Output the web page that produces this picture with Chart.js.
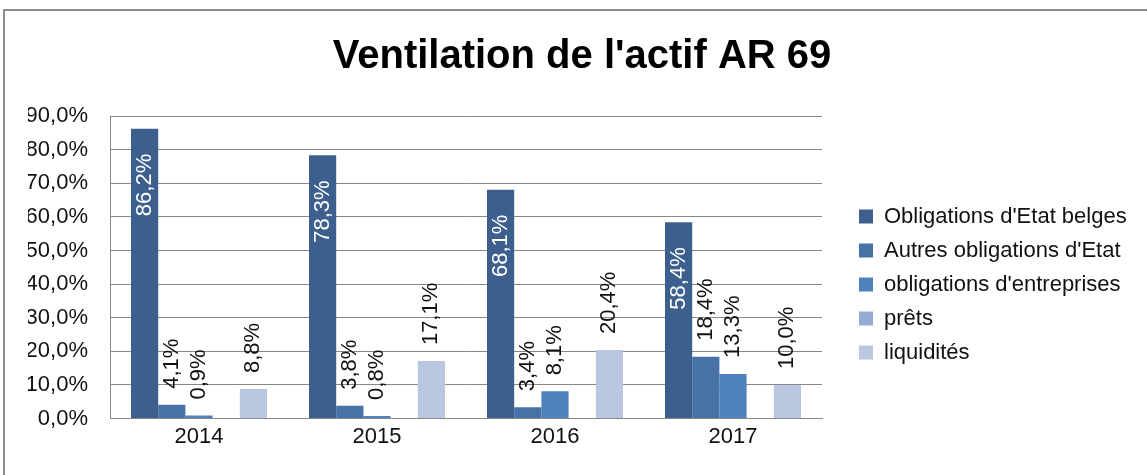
<!DOCTYPE html>
<html lang="fr">
<head>
<meta charset="utf-8">
<title>Ventilation de l'actif AR 69</title>
<script src="https://cdn.jsdelivr.net/npm/chart.js@4.4.1/dist/chart.umd.min.js"></script>
<style>
  html, body { margin: 0; padding: 0; background: #fff; overflow: hidden; }
  #frame { position: absolute; left: 3px; top: 9px; width: 1170px; height: 490px; border: 2px solid #8c8c8c; }
  #chartWrap { position: absolute; left: 0; top: 0; width: 1147px; height: 475px; }
</style>
</head>
<body>
<div id="frame"></div>
<div id="chartWrap"><canvas id="chartActif" width="1147" height="475"></canvas></div>
<script>
// Data (percent of assets)
const YEARS = ['2014', '2015', '2016', '2017'];
const SERIES_NAMES = ["Obligations d'Etat belges", "Autres obligations d'Etat", "obligations d'entreprises", 'prêts', 'liquidités'];
const OBLIG_BELGES = [86.2, 78.3, 68.1, 58.4];
const AUTRES_OBLIG = [4.1, 3.8, 3.4, 18.4];
const OBLIG_ENTREPRISES = [0.9, 0.8, 8.1, 13.3];
const PRETS = [null, null, null, null];        // no bars drawn
const LIQUIDITES = [8.8, 17.1, 20.4, 10.0];
const SERIES_COLORS = ['#3C5F8E', '#4672A8', '#4F81BD', '#95ACD2', '#B9C7E0'];

// Layout
const FONT = '"Liberation Sans", Arial, sans-serif';
const Y_AXIS_WIDTH = 82;
const LEGEND_AREA_WIDTH = 314;   // block reserved right of the plot
const LEGEND_INSET = 25;         // extra shift of legend items to the right
const LEGEND_DROP = 57;          // legend sits lower than centred

/** 86.2 -> "86,2%" */
const pct = v => Number(v).toFixed(1).replace('.', ',') + '%';

/** Fixed-width legend block, items nudged right/down */
const legendBlock = {
  id: 'legendBlock',
  beforeInit(chart) {
    const legend = chart.legend;
    if (!legend) return;
    const fit = legend.fit;
    legend.fit = function () {
      fit.call(this);
      this.width = LEGEND_AREA_WIDTH;
    };
  },
  afterLayout(chart) {
    const legend = chart.legend;
    if (!legend) return;
    legend.left += LEGEND_INSET;
    legend.top += LEGEND_DROP;
    legend.bottom += LEGEND_DROP;
  }
};

/** Rotated value labels: inside top for first series, above bar for the rest */
const barLabels = {
  id: 'barLabels',
  afterDatasetsDraw(chart) {
    const ctx = chart.ctx;
    ctx.save();
    ctx.font = '22px ' + FONT;
    ctx.textBaseline = 'middle';
    chart.data.datasets.forEach((ds, i) => {
      const meta = chart.getDatasetMeta(i);
      if (meta.hidden) return;
      meta.data.forEach((bar, j) => {
        const v = ds.data[j];
        if (v == null) return;
        const inside = i === 0;
        ctx.save();
        ctx.translate(bar.x, inside ? bar.y + 25 : bar.y - 16);
        ctx.rotate(-Math.PI / 2);
        ctx.textAlign = inside ? 'right' : 'left';
        ctx.fillStyle = inside ? '#ffffff' : '#111111';
        ctx.fillText(pct(v), 0, 0);
        ctx.restore();
      });
    });
    ctx.restore();
  }
};

const seriesValues = [OBLIG_BELGES, AUTRES_OBLIG, OBLIG_ENTREPRISES, PRETS, LIQUIDITES];

new Chart(document.getElementById('chartActif'), {
  type: 'bar',
  data: {
    labels: YEARS,
    datasets: SERIES_NAMES.map((name, i) => ({
      label: name,
      data: seriesValues[i],
      backgroundColor: SERIES_COLORS[i],
      borderWidth: 0
    }))
  },
  options: {
    responsive: false,
    animation: false,
    layout: { padding: { left: 28, right: 11, top: 0, bottom: 20 } },
    datasets: { bar: { categoryPercentage: 0.764, barPercentage: 1 } },
    scales: {
      x: {
        grid: { display: false, drawTicks: false },
        border: { color: '#888888', width: 1 },
        ticks: { padding: 5, color: '#111', font: { family: FONT, size: 22 } }
      },
      y: {
        min: 0,
        max: 90,
        grid: { color: '#878787', lineWidth: 1, drawTicks: false },
        border: { color: '#888888', width: 1 },
        ticks: {
          stepSize: 10,
          padding: 22,
          color: '#111',
          font: { family: FONT, size: 22 },
          callback: v => pct(v)
        },
        afterFit: scale => { scale.width = Y_AXIS_WIDTH; }
      }
    },
    plugins: {
      title: {
        display: true,
        text: "Ventilation de l'actif AR 69",
        color: '#000',
        font: { family: FONT, size: 40, weight: 'bold', lineHeight: 1.2 },
        padding: { top: 33, bottom: 35 }
      },
      legend: {
        position: 'right',
        labels: {
          boxWidth: 14,
          boxHeight: 14,
          padding: 12,
          color: '#111',
          font: { family: FONT, size: 22 }
        }
      },
      tooltip: { enabled: false }
    }
  },
  plugins: [legendBlock, barLabels]
});
</script>
</body>
</html>
